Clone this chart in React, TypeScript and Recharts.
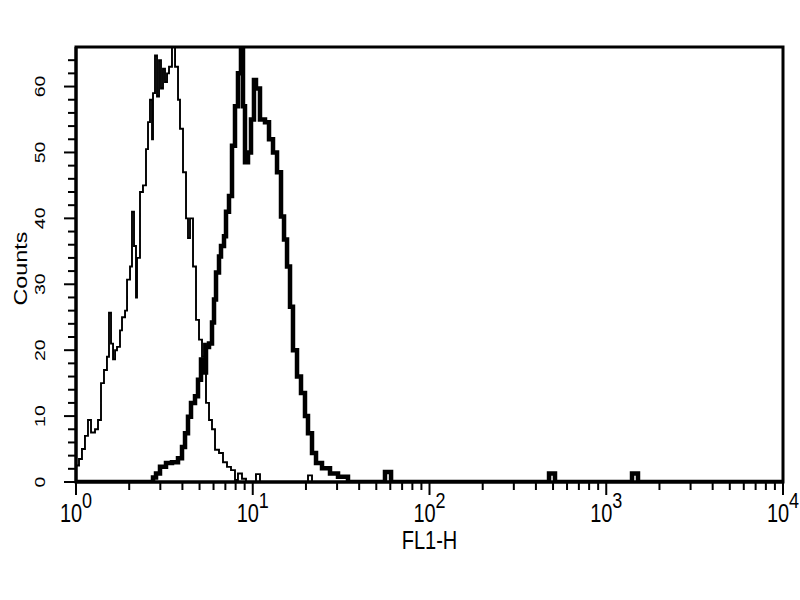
import { LineChart, Line, XAxis, YAxis, ReferenceArea, Label } from "recharts";

// FL1-H channel (left edge of each step) and counts
const controlFl1 = [
  1.0, 1.04, 1.081, 1.124, 1.169, 1.216, 1.281, 1.332, 1.385, 1.44, 1.497, 1.537, 1.578, 1.62, 1.663, 1.706,
  1.774, 1.821, 1.894, 1.944, 2.021, 2.074, 2.129, 2.185, 2.214, 2.302, 2.393, 2.489, 2.555, 2.622, 2.692,
  2.727, 2.799, 2.873, 2.949, 3.026, 3.106, 3.188, 3.273, 3.359, 3.492, 3.633, 3.777, 3.876, 4.031, 4.192,
  4.302, 4.416, 4.592, 4.775, 4.965, 5.163, 5.3, 5.439, 5.656, 5.881, 6.116, 6.443, 6.787, 7.15, 7.532, 7.935,
  8.25, 8.692, 9.158, 10.43, 10.99, 20.54, 21.64, 10000,
];
const controlCounts = [
  2.5, 3.5, 5, 7, 9.4, 7.5, 8, 9.4, 15, 17, 19, 25.7, 21, 18.6, 20, 20.5, 23, 25, 26, 30.7, 32.7, 41, 35.8, 28,
  34, 44, 45, 50.5, 54.6, 58, 52, 59, 64.7, 58.5, 64, 59.7, 62.7, 60.7, 62, 63, 66, 63, 58, 53.6, 47, 40, 37,
  40, 32.7, 24.6, 21.6, 19, 21, 12, 9.4, 8, 4.9, 4.4, 3, 2.3, 1.8, 0.3, 1.3, 0.5, 0, 1.2, 0, 1, 0, 0,
];

const stainedFl1 = [
  1, 2.727, 2.836, 2.987, 3.23, 3.492, 3.777, 3.979, 4.138, 4.302, 4.474, 4.713, 4.901, 5.096, 5.3, 5.439,
  5.656, 5.881, 6.037, 6.197, 6.443, 6.613, 6.877, 7.058, 7.339, 7.632, 7.935, 8.25, 8.579, 8.806, 9.039, 9.4,
  9.775, 10.16, 10.43, 10.99, 11.73, 12.36, 13.02, 13.72, 14.45, 15.03, 15.63, 16.25, 16.89, 17.8, 18.75,
  19.75, 20.54, 21.64, 22.8, 24.65, 27.36, 30.37, 34.58, 56.0, 60.6, 474.6, 512.9, 1399, 1512, 10000,
];
const stainedCounts = [
  0, 0.7, 1.3, 2.3, 2.9, 3, 3.6, 5.3, 7.4, 9.9, 12, 13, 15.5, 18.6, 16.6, 20.5, 21, 24.2, 27.7, 31.8, 34.2,
  35.8, 37.3, 41, 43.4, 51, 57, 62, 66, 57, 48.5, 50, 55, 61, 59.7, 55, 54.6, 52, 50, 47, 40.3, 36.8, 32.7,
  26.6, 20, 16, 13.5, 10, 7.4, 4.4, 2.9, 2.1, 1.3, 0.8, 0, 1.5, 0, 1.3, 0, 1.3, 0, 0,
];

const xTicks = [
  1, 2, 3, 4, 5, 6, 7, 8, 9, 10, 20, 30, 40, 50, 60, 70, 80, 90, 100, 200, 300, 400, 500, 600, 700, 800, 900,
  1000, 2000, 3000, 4000, 5000, 6000, 7000, 8000, 9000, 10000,
];
const yTicks = [0, 2, 4, 6, 8, 10, 12, 14, 16, 18, 20, 22, 24, 26, 28, 30, 32, 34, 36, 38, 40, 42, 44, 46, 48, 50, 52, 54, 56, 58, 60, 62, 64];

const FONT = "'Liberation Sans', Arial, sans-serif";

const controlData = controlFl1.map((fl1, i) => ({ fl1, count: controlCounts[i] }));
const stainedData = stainedFl1.map((fl1, i) => ({ fl1, count: stainedCounts[i] }));

function XTick({ x, y, payload }: any) {
  const v = payload.value;
  const exp = Math.round(Math.log10(v));
  const major = Math.abs(Math.log10(v) - exp) < 1e-6;
  return (
    <g transform={`translate(${x},${y})`}>
      <line x1={0} y1={0} x2={0} y2={major ? 13 : 8} stroke="#000" strokeWidth={2} />
      {major && (
        <text
          transform="translate(0,40) scale(1,1.25)"
          textAnchor="middle"
          fontSize={20}
          fontFamily={FONT}
          fill="#000"
        >
          10
          <tspan dy={-11} fontSize={18}>
            {exp}
          </tspan>
        </text>
      )}
    </g>
  );
}

function YTick({ x, y, payload }: any) {
  const v = payload.value;
  const major = v % 10 === 0;
  return (
    <g transform={`translate(${x},${y})`}>
      <line x1={0} y1={0} x2={major ? -12 : -8} y2={0} stroke="#000" strokeWidth={2} />
      {major && (
        <text
          transform="translate(-31,0) rotate(-90) scale(1.3,1)"
          textAnchor="middle"
          fontSize={15}
          fontFamily={FONT}
          fill="#000"
        >
          {v}
        </text>
      )}
    </g>
  );
}

export default function App() {
  return (
    <div style={{ position: "absolute", left: 0, top: 0, width: 800, height: 600, background: "#fff" }}>
      <LineChart width={800} height={600} margin={{ top: 47, right: 17, bottom: 0, left: 0 }}>
        <XAxis
          dataKey="fl1"
          type="number"
          scale="log"
          domain={[1, 10000]}
          ticks={xTicks}
          interval={0}
          allowDataOverflow
          height={118}
          tickSize={0}
          tickMargin={0}
          tickLine={false}
          axisLine={{ stroke: "#000", strokeWidth: 3 }}
          tick={<XTick />}
        >
          <Label
            content={({ viewBox }: any) => (
              <text
                transform={`translate(${viewBox.x + viewBox.width / 2},${viewBox.y + 67}) scale(1,1.28)`}
                textAnchor="middle"
                fontSize={20}
                fontFamily={FONT}
                fill="#000"
              >
                FL1-H
              </text>
            )}
          />
        </XAxis>
        <YAxis
          dataKey="count"
          type="number"
          domain={[0, 66]}
          ticks={yTicks}
          interval={0}
          allowDataOverflow
          width={76}
          tickSize={0}
          tickMargin={0}
          tickLine={false}
          axisLine={{ stroke: "#000", strokeWidth: 3 }}
          tick={<YTick />}
        >
          <Label
            content={({ viewBox }: any) => (
              <text
                transform={`translate(27,${viewBox.y + viewBox.height / 2 + 4}) rotate(-90) scale(1.3,1)`}
                textAnchor="middle"
                fontSize={18}
                fontFamily={FONT}
                fill="#000"
              >
                Counts
              </text>
            )}
          />
        </YAxis>
        <ReferenceArea x1={1} x2={10000} y1={0} y2={66} fill="none" stroke="#000" strokeWidth={3} />
        <Line
          data={controlData}
          dataKey="count"
          type="stepAfter"
          stroke="#000"
          strokeWidth={1.9}
          dot={false}
          activeDot={false}
          isAnimationActive={false}
        />
        <Line
          data={stainedData}
          dataKey="count"
          type="stepAfter"
          stroke="#000"
          strokeWidth={4.5}
          dot={false}
          activeDot={false}
          isAnimationActive={false}
        />
      </LineChart>
    </div>
  );
}
